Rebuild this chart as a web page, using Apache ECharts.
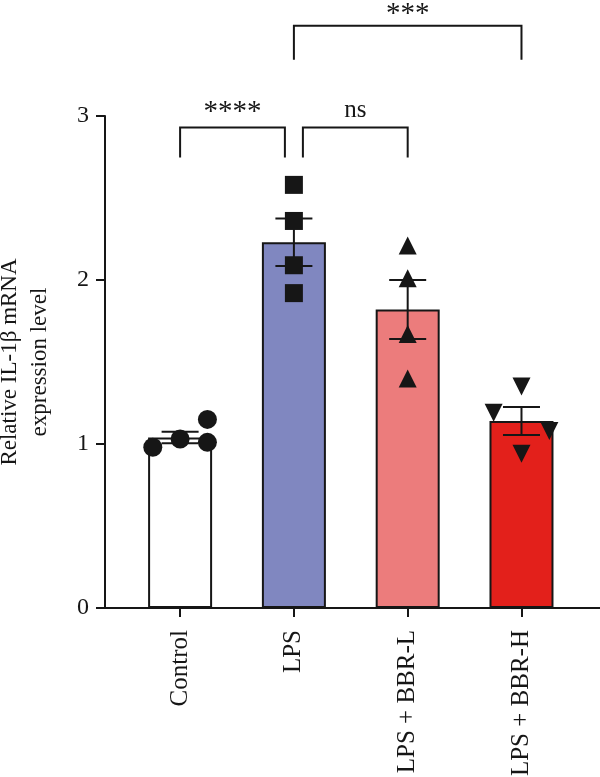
<!DOCTYPE html>
<html>
<head>
<meta charset="utf-8">
<title>Relative IL-1β mRNA expression</title>
<script src="https://cdn.jsdelivr.net/npm/echarts@6/dist/echarts.min.js"></script>
<style>
  html, body { margin: 0; padding: 0; background: #fff; }
  #chart { width: 600px; height: 777px; }
</style>
</head>
<body>
<div id="chart"></div>
<script>
// groups, bar heights (mean) and SEM
const categories = ['Control', 'LPS', 'LPS + BBR-L', 'LPS + BBR-H']
const means = [1.04, 2.23, 1.82, 1.14]
const sems = [0.035, 0.145, 0.18, 0.085]

// individual replicates per group
const controlPts = [0.98, 1.03, 1.01, 1.15]
const lpsPts = [2.58, 2.36, 2.09, 1.92]
const bbrLPts = [2.21, 2.01, 1.67, 1.40]
const bbrHPts = [1.19, 1.35, 1.08, 0.94]

const yTicks = [0, 1, 2, 3]

// significance brackets: which groups, label, height in y units
const sigPairs = [[0, 1], [1, 2], [1, 3]]
const sigLabels = ['****', 'ns', '***']
const sigLevels = [2.93, 2.93, 3.55]

// layout / style (not data)
const FONT = '"Liberation Serif", "Times New Roman", serif'
const INK = '#161616'
const barColors = ['#ffffff', '#8087c0', '#ec7c7c', '#e3201b']
const controlJitter = [-0.24, 0, 0.24, 0.24]
const flatJitter = [0, 0, 0, 0]
const bbrHJitter = [-0.245, 0, 0.245, 0]
const sigInset = [[0, 9], [9, 0], [0, 0]]
const sigLeg = [30, 30, 34]
const sigFont = [29, 25, 29]
const sigGap = [15, 17, 11]

const pts = (vals, center, jitter) => vals.map((v, i) => [center + jitter[i], v])

const scatter = (data, symbol, size, rotate) => ({
  type: 'scatter',
  data,
  symbol,
  symbolSize: size,
  symbolRotate: rotate || 0,
  itemStyle: { color: INK, opacity: 1 },
  z: 5,
  silent: true
})

const chart = echarts.init(document.getElementById('chart'))

chart.setOption({
  animation: false,
  backgroundColor: '#ffffff',
  grid: { left: 105, right: 0, top: 116, bottom: 169, containLabel: false, outerBoundsMode: 'none' },
  xAxis: {
    type: 'value',
    min: -0.66,
    max: 3.69,
    splitLine: { show: false },
    axisLine: { show: true, onZero: false, lineStyle: { color: INK, width: 2 } },
    axisTick: { show: true, customValues: [0, 1, 2, 3], length: 9, lineStyle: { color: INK, width: 2 } },
    axisLabel: {
      customValues: [0, 1, 2, 3],
      rotate: 90,
      margin: 22,
      fontFamily: FONT,
      fontSize: 25,
      color: INK,
      formatter: (v) => categories[Math.round(v)]
    }
  },
  yAxis: {
    type: 'value',
    min: 0,
    max: 3,
    interval: 1,
    name: 'Relative IL-1β mRNA\nexpression level',
    nameLocation: 'middle',
    nameRotate: 90,
    nameGap: 50,
    nameTextStyle: { fontFamily: FONT, fontSize: 23, lineHeight: 30, color: INK },
    splitLine: { show: false },
    axisLine: { show: true, onZero: false, lineStyle: { color: INK, width: 2 } },
    axisTick: { show: true, length: 9, lineStyle: { color: INK, width: 2 } },
    axisLabel: {
      margin: 16,
      fontFamily: FONT,
      fontSize: 24,
      color: INK,
      formatter: (v) => (yTicks.includes(v) ? String(v) : '')
    }
  },
  series: [
    {
      type: 'bar',
      barWidth: 64,
      data: means.map((m, i) => ({
        value: [i, m],
        itemStyle: { color: barColors[i], borderColor: INK, borderWidth: 2 }
      })),
      z: 2,
      silent: true
    },
    // error bars (mean ± SEM)
    {
      type: 'custom',
      data: means.map((m, i) => [i, m - sems[i], m + sems[i]]),
      encode: { x: 0, y: [1, 2] },
      z: 4,
      silent: true,
      renderItem: (params, api) => {
        const lo = api.coord([api.value(0), api.value(1)])
        const hi = api.coord([api.value(0), api.value(2)])
        const hw = 18.5
        const st = { stroke: INK, lineWidth: 2 }
        return {
          type: 'group',
          children: [
            { type: 'line', shape: { x1: lo[0], y1: lo[1], x2: hi[0], y2: hi[1] }, style: st },
            { type: 'line', shape: { x1: lo[0] - hw, y1: lo[1], x2: lo[0] + hw, y2: lo[1] }, style: st },
            { type: 'line', shape: { x1: hi[0] - hw, y1: hi[1], x2: hi[0] + hw, y2: hi[1] }, style: st }
          ]
        }
      }
    },
    scatter(pts(controlPts, 0, controlJitter), 'circle', 19),
    scatter(pts(lpsPts, 1, flatJitter), 'rect', 18),
    scatter(pts(bbrLPts, 2, flatJitter), 'triangle', 18),
    scatter(pts(bbrHPts, 3, bbrHJitter), 'triangle', 18, 180),
    // significance brackets
    {
      type: 'custom',
      data: sigPairs.map((p, i) => [p[0], p[1], sigLevels[i]]),
      encode: { x: [0, 1], y: 2 },
      clip: false,
      z: 6,
      silent: true,
      renderItem: (params, api) => {
        const i = params.dataIndex
        const a = api.coord([api.value(0), api.value(2)])
        const b = api.coord([api.value(1), api.value(2)])
        const x1 = a[0] + sigInset[i][0]
        const x2 = b[0] - sigInset[i][1]
        const y = a[1]
        return {
          type: 'group',
          children: [
            {
              type: 'polyline',
              shape: { points: [[x1, y + sigLeg[i]], [x1, y], [x2, y], [x2, y + sigLeg[i]]] },
              style: { stroke: INK, lineWidth: 2, fill: null }
            },
            {
              type: 'text',
              style: {
                text: sigLabels[i],
                x: (x1 + x2) / 2,
                y: y - sigGap[i],
                align: 'center',
                verticalAlign: 'middle',
                font: sigFont[i] + 'px ' + FONT,
                fill: INK
              }
            }
          ]
        }
      }
    }
  ]
})

window.addEventListener('resize', () => chart.resize())
</script>
</body>
</html>
